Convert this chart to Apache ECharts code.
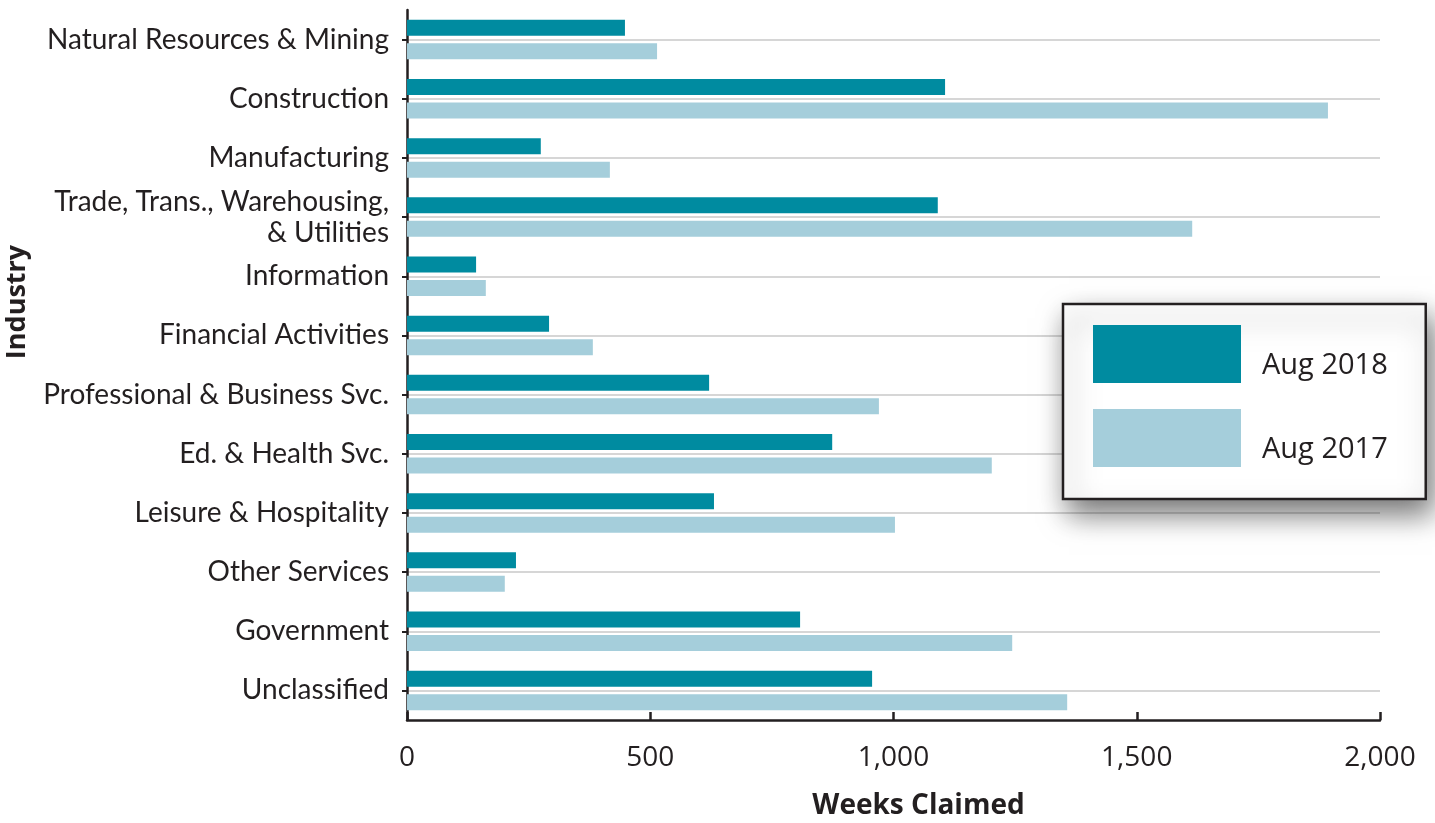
<!DOCTYPE html>
<html>
<head>
<meta charset="utf-8">
<script src="https://cdn.jsdelivr.net/npm/echarts@6/dist/echarts.min.js"></script>
<style>
html,body{margin:0;padding:0;background:#fff;}
#chart{width:1435px;height:823px;}
</style>
</head>
<body>
<div id="chart"></div>
<script>
const categories = [
  'Natural Resources & Mining',
  'Construction',
  'Manufacturing',
  'Trade, Trans., Warehousing,\n& Utilities',
  'Information',
  'Financial Activities',
  'Professional & Business Svc.',
  'Ed. & Health Svc.',
  'Leisure & Hospitality',
  'Other Services',
  'Government',
  'Unclassified'
];
const aug2018 = [448, 1106, 275, 1091, 142, 292, 621, 874, 631, 224, 808, 956];
const aug2017 = [514, 1893, 417, 1614, 162, 382, 970, 1202, 1003, 201, 1244, 1357];
const xTicks = [0, 500, 1000, 1500, 2000];

const INK = '#231F20';
const chart = echarts.init(document.getElementById('chart'));
chart.setOption({
  animation: false,
  grid: { left: 407, right: 55, top: 10, bottom: 103, containLabel: false, outerBoundsMode: 'none' },
  legend: {
    orient: 'vertical',
    left: 1063, top: 304,
    itemWidth: 148, itemHeight: 58, itemGap: 26,
    padding: [21, 38, 32, 30],
    backgroundColor: '#fff',
    borderColor: INK, borderWidth: 2.5, borderRadius: 0,
    shadowBlur: 28, shadowColor: 'rgba(0,0,0,0.55)', shadowOffsetX: 6, shadowOffsetY: 14,
    icon: 'rect',
    formatter: name => '{t|' + name + '}',
    textStyle: {
      fontFamily: 'Open Sans', fontSize: 29, color: INK,
      rich: { t: { fontFamily: 'Open Sans', fontSize: 29, color: INK, padding: [24, 0, 0, 16] } }
    },
    itemStyle: { borderWidth: 0 },
    data: ['Aug 2018', 'Aug 2017']
  },
  xAxis: {
    type: 'value', min: 0, max: 2000, interval: 500,
    name: 'Weeks Claimed', nameLocation: 'middle', nameGap: 72,
    nameTextStyle: { fontFamily: 'Open Sans', fontWeight: 'bold', fontSize: 28, color: INK, padding: [0, 0, 0, 50] },
    axisLine: { show: true, lineStyle: { color: INK, width: 2.5 } },
    axisTick: { show: true, inside: true, length: 8, lineStyle: { color: INK, width: 2.5 } },
    axisLabel: {
      fontFamily: 'Open Sans', fontSize: 28, color: INK, margin: 24,
      formatter: v => xTicks.includes(v) ? v.toLocaleString('en-US') : ''
    },
    splitLine: { show: false }
  },
  yAxis: {
    type: 'category', data: categories, inverse: true,
    name: 'Industry', nameLocation: 'middle', nameRotate: 90, nameGap: 376,
    nameTextStyle: { fontFamily: 'Open Sans', fontWeight: 'bold', fontSize: 27, color: INK, padding: [0, 0, 0, 126] },
    axisLine: { show: true, lineStyle: { color: INK, width: 2.5 } },
    axisTick: { show: true, alignWithLabel: true, length: 5, lineStyle: { color: INK, width: 2 } },
    axisLabel: { fontFamily: 'Lato', fontSize: 28, color: INK, margin: 18, lineHeight: 31 },
    splitLine: { show: true, alignWithLabel: true, lineStyle: { color: '#C8C8C8', width: 1.5 } }
  },
  series: [
    { name: 'Aug 2018', type: 'bar', data: aug2018, barWidth: 16, barGap: '47%',
      itemStyle: { color: '#008BA0' } },
    { name: 'Aug 2017', type: 'bar', data: aug2017, barWidth: 16, barGap: '47%',
      itemStyle: { color: '#A5CEDB' } }
  ]
});
</script>
</body>
</html>
